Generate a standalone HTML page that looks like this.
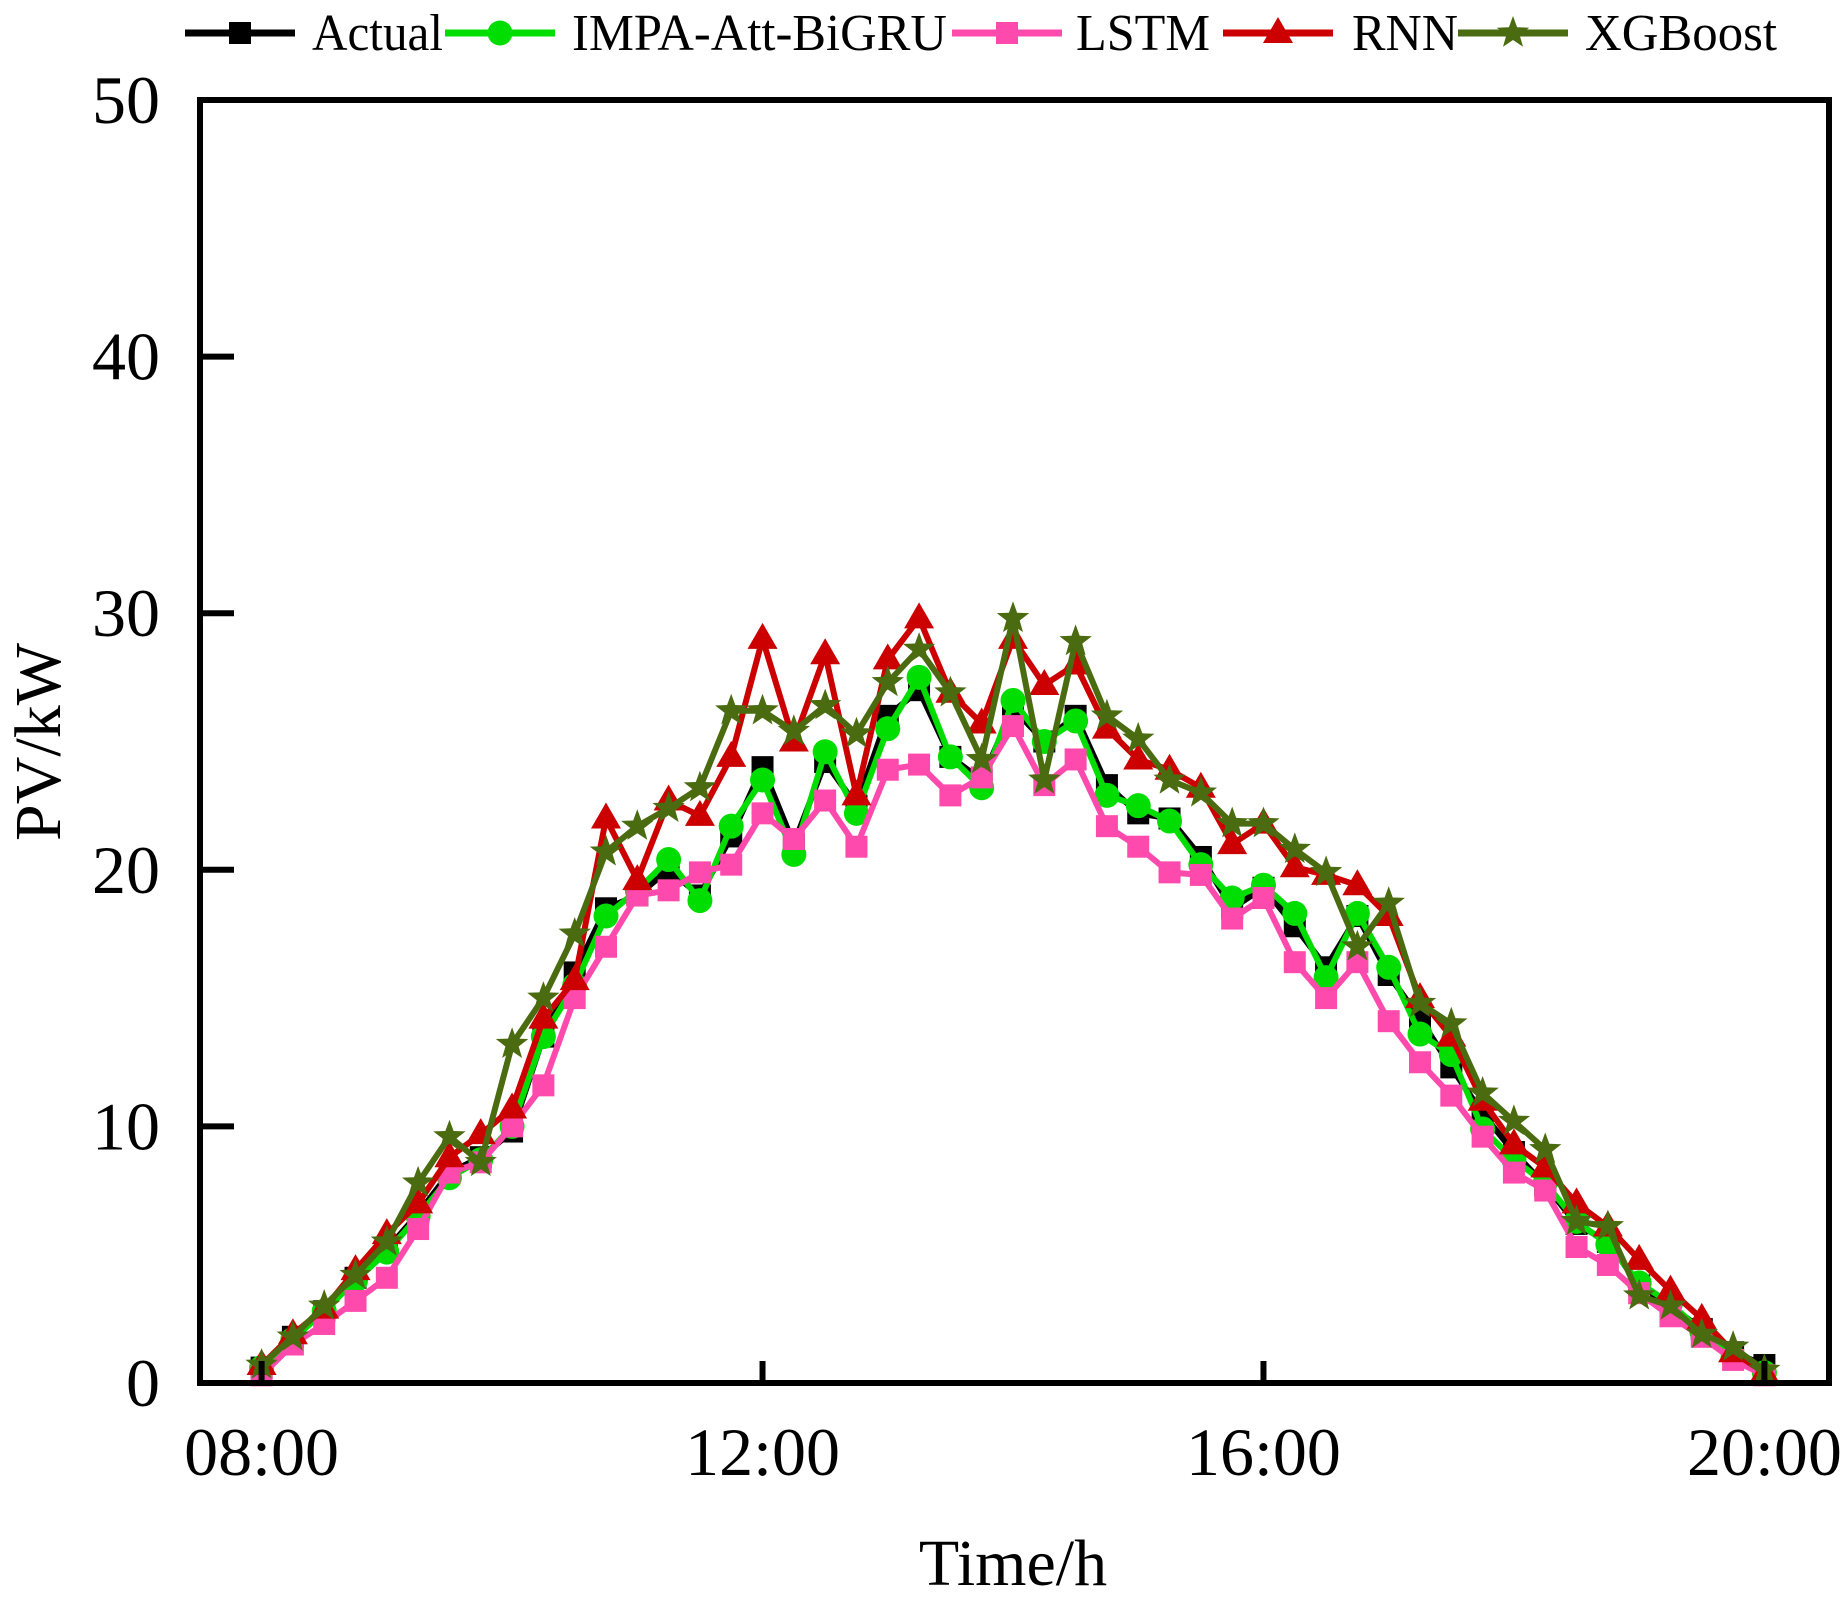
<!DOCTYPE html>
<html><head><meta charset="utf-8"><style>
html,body{margin:0;padding:0;background:#fff;}
svg{display:block;font-family:"Liberation Serif",serif;}
</style></head><body>
<svg id="chart" width="1848" height="1602" viewBox="0 0 1848 1602" xmlns="http://www.w3.org/2000/svg">
<rect x="0" y="0" width="1848" height="1602" fill="#fff"/>
<g id="series-layer"></g>
<rect x="200" y="100" width="1629" height="1283" fill="none" stroke="#000" stroke-width="6"/>
<g id="axes-layer"></g>
<text x="1013" y="1585" font-size="66" text-anchor="middle">Time/h</text>
<text x="0" y="0" font-size="66" text-anchor="middle" transform="translate(60,742) rotate(-90)">PV/kW</text>
<g id="legend-layer"></g>
</svg>
<script>
const xLabels = ["08:00","12:00","16:00","20:00"];
const xTickIdx = [0,16,32,48];
const yTicks = [0,10,20,30,40,50];
const actual = [0.6,1.8,2.8,4.1,5.2,6.6,8.2,8.8,9.8,13.5,16,18.5,19,20,19,21.3,24,21,24.2,22.5,26,27,24.4,23.5,26.3,25,26,23.3,22.2,22,20.5,18.5,19.3,17.8,16.2,18.2,15.9,14.2,12.3,10.5,9.0,7.7,6.2,5.5,3.8,3.0,2.1,1.2,0.7];
const impa = [0.6,1.7,2.8,4.0,5.1,6.5,8.0,8.7,10.0,13.5,15.5,18.2,19.2,20.4,18.8,21.7,23.5,20.6,24.6,22.2,25.5,27.5,24.4,23.2,26.6,25.0,25.8,22.9,22.5,21.9,20.2,18.9,19.4,18.3,15.8,18.3,16.2,13.6,12.8,9.9,8.7,7.8,6.3,5.4,3.9,3.1,2.0,1.0,0.4];
const lstm = [0.3,1.5,2.3,3.2,4.1,6.0,8.2,8.6,10.0,11.6,15.0,17.0,19.0,19.2,19.9,20.2,22.2,21.2,22.7,20.9,23.9,24.1,22.9,23.6,25.6,23.3,24.3,21.7,20.9,19.9,19.8,18.1,18.9,16.4,15.0,16.4,14.1,12.5,11.2,9.6,8.2,7.5,5.3,4.6,3.5,2.6,1.8,0.9,0.3];
const rnn = [0.7,1.9,2.9,4.4,5.8,7.0,8.8,9.7,10.7,14.2,15.7,22.0,19.6,22.7,22.1,24.4,29.0,25.0,28.4,22.9,28.2,29.8,26.9,25.7,29.0,27.2,28.0,25.5,24.3,23.9,23.2,21.0,21.8,20.1,19.8,19.4,18.2,15.0,13.5,11.0,9.3,8.4,7.0,6.1,4.8,3.6,2.5,1.2,0.4];
const xgb = [0.7,1.8,3.0,4.2,5.5,7.8,9.6,8.6,13.2,15.0,17.5,20.7,21.7,22.4,23.2,26.2,26.2,25.4,26.4,25.3,27.3,28.6,26.9,24.3,29.8,23.5,28.9,26.0,25.1,23.5,23.0,21.8,21.8,20.8,19.9,17.0,18.7,14.8,14.0,11.3,10.2,9.1,6.3,6.1,3.4,3.0,1.9,1.4,0.5];
const seriesNames = ["Actual","IMPA-Att-BiGRU","LSTM","RNN","XGBoost"];

const NS="http://www.w3.org/2000/svg";
const X0=261.6, X1=1764.4, Y0=1383, Y1=100;
function xs(i){return X0+(X1-X0)*i/48;}
function ys(v){return Y0-(Y0-Y1)*v/50;}
function mk(tag,attrs,parent){const e=document.createElementNS(NS,tag);for(const k in attrs)e.setAttribute(k,attrs[k]);parent.appendChild(e);return e;}

const series=[
 {data:actual,color:"#000000",marker:"square",key:"actual"},
 {data:impa,color:"#00dd00",marker:"circle",key:"impa-att-bigru"},
 {data:lstm,color:"#ff4aad",marker:"square",key:"lstm"},
 {data:rnn,color:"#cc0000",marker:"triangle",key:"rnn"},
 {data:xgb,color:"#4a6b10",marker:"star",key:"xgboost"}
];

function drawMarker(type,cx,cy,color,g){
  let e;
  if(type==="square"){e=mk("rect",{x:cx-11,y:cy-11,width:22,height:22,fill:color},g);}
  else if(type==="circle"){e=mk("circle",{cx:cx,cy:cy,r:12.5,fill:color},g);}
  else if(type==="triangle"){e=mk("polygon",{points:`${cx},${cy-16} ${cx+15},${cy+10} ${cx-15},${cy+10}`,fill:color},g);}
  else {let p=[];for(let k=0;k<10;k++){const r=k%2?7:17;const a=-Math.PI/2+k*Math.PI/5;p.push((cx+r*Math.cos(a)).toFixed(1)+","+(cy+r*Math.sin(a)).toFixed(1));}
    e=mk("polygon",{points:p.join(" "),fill:color},g);}
  return e;
}

const sl=document.getElementById("series-layer");
series.forEach((s,si)=>{
  const g=mk("g",{},sl);
  
  
  const pts=s.data.map((v,i)=>xs(i).toFixed(1)+","+ys(v).toFixed(1)).join(" ");
  const line=mk("polyline",{points:pts,fill:"none",stroke:s.color,"stroke-width":6,"stroke-linejoin":"miter"},g);
  
  
  s.data.forEach((v,i)=>{
    const m=drawMarker(s.marker,xs(i),ys(v),s.color,g);
    
    
  });
});

const al=document.getElementById("axes-layer");
yTicks.forEach(v=>{
  const t=mk("line",{x1:200,x2:234,y1:ys(v),y2:ys(v),stroke:"#000","stroke-width":6},al);
  
  
  const l=mk("text",{x:160,y:ys(v)+23,"font-size":68,"text-anchor":"end"},al);
  l.textContent=v;
  
  
});
xTickIdx.forEach((idx,k)=>{
  const t=mk("line",{x1:xs(idx),x2:xs(idx),y1:1383,y2:1361,stroke:"#000","stroke-width":6},al);
  
  
  const l=mk("text",{x:xs(idx),y:1475,"font-size":68,"text-anchor":"middle"},al);
  l.textContent=xLabels[k];
  
  
});

const ll=document.getElementById("legend-layer");
const legX=[185,445,952,1223,1458];
const legTextX=[312,572,1076,1352,1585];
const legW=[131,375,134,106,192];
series.forEach((s,si)=>{
  const g=mk("g",{},ll);
  
  
  mk("line",{x1:legX[si],x2:legX[si]+110,y1:33,y2:33,stroke:s.color,"stroke-width":7},g);
  drawMarker(s.marker,legX[si]+55,33,s.color,g);
  const t=mk("text",{x:legTextX[si],y:50,"font-size":52,textLength:legW[si],lengthAdjust:"spacingAndGlyphs"},g);
  t.textContent=seriesNames[si];
});
</script>
</body></html>
